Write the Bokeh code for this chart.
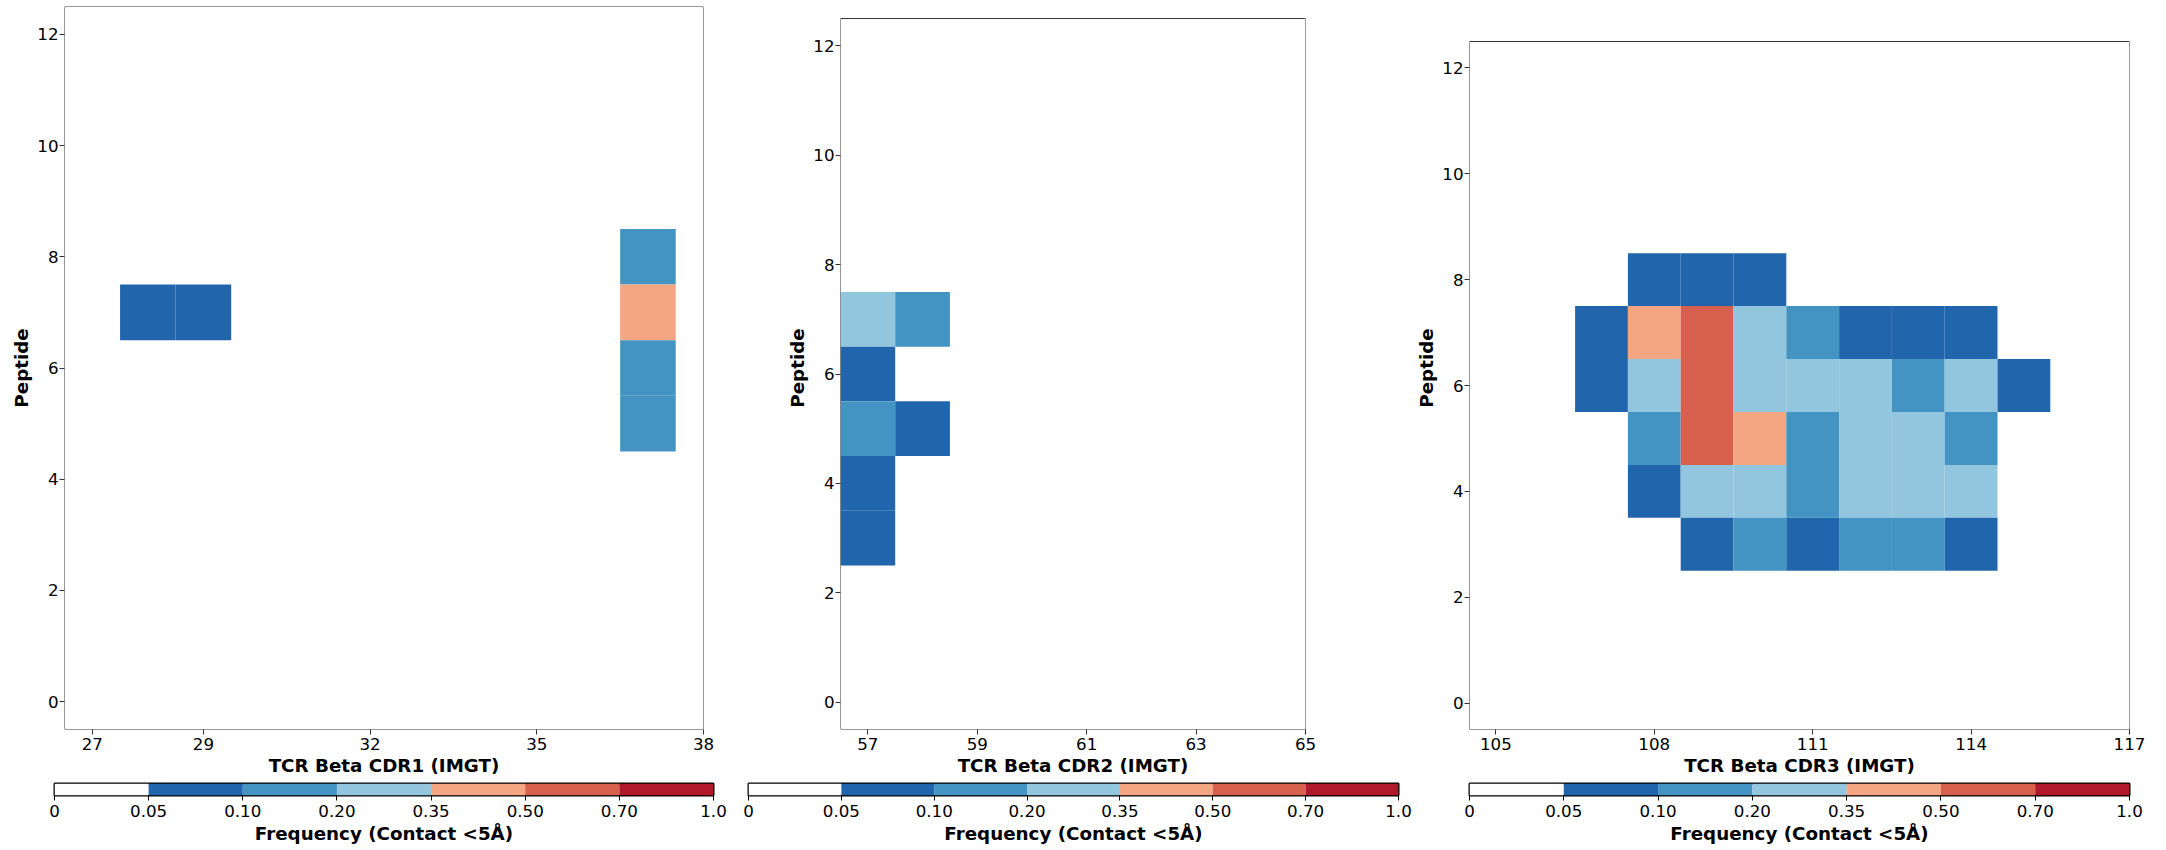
import numpy as np
from bokeh.plotting import figure
from bokeh.models import ColumnDataSource, FixedTicker, LinearColorMapper, Range1d, BoxAnnotation
from bokeh.layouts import row, column
from bokeh.embed import file_html
from bokeh.resources import INLINE

# ---- colour scale (bin boundaries + colours) ----
BOUNDS = [0, 0.05, 0.10, 0.20, 0.35, 0.50, 0.70, 1.0]
BOUND_LABELS = ["0", "0.05", "0.10", "0.20", "0.35", "0.50", "0.70", "1.0"]
PALETTE = ["#ffffff", "#2166ac", "#4393c3", "#92c5de", "#f4a582", "#d6604d", "#b2182b"]

# ---- CDR1 contacts ----
cdr1_pos = [28, 29, 37, 37, 37, 37]
cdr1_pep = [7, 7, 8, 7, 6, 5]
cdr1_freq = [0.08, 0.08, 0.15, 0.42, 0.15, 0.15]
cdr1_ticks = [27, 29, 32, 35, 38]

# ---- CDR2 contacts ----
cdr2_pos = [57, 57, 57, 57, 57, 58, 58]
cdr2_pep = [7, 6, 5, 4, 3, 7, 5]
cdr2_freq = [0.27, 0.08, 0.15, 0.08, 0.08, 0.15, 0.08]
cdr2_ticks = [57, 59, 61, 63, 65]

# ---- CDR3 contacts ----
cdr3_pos = [108, 109, 110,
            107, 108, 109, 110, 111, 112, 113, 114,
            107, 108, 109, 110, 111, 112, 113, 114, 115,
            108, 109, 110, 111, 112, 113, 114,
            108, 109, 110, 111, 112, 113, 114,
            109, 110, 111, 112, 113, 114]
cdr3_pep = [8, 8, 8,
            7, 7, 7, 7, 7, 7, 7, 7,
            6, 6, 6, 6, 6, 6, 6, 6, 6,
            5, 5, 5, 5, 5, 5, 5,
            4, 4, 4, 4, 4, 4, 4,
            3, 3, 3, 3, 3, 3]
cdr3_freq = [0.08, 0.08, 0.08,
             0.08, 0.42, 0.60, 0.27, 0.15, 0.08, 0.08, 0.08,
             0.08, 0.27, 0.60, 0.27, 0.27, 0.27, 0.15, 0.27, 0.08,
             0.15, 0.60, 0.42, 0.15, 0.27, 0.27, 0.15,
             0.08, 0.27, 0.27, 0.15, 0.27, 0.27, 0.27,
             0.08, 0.15, 0.08, 0.15, 0.15, 0.08]
cdr3_ticks = [105, 108, 111, 114, 117]

PEP_RANGE = (-0.5, 12.5)
PEP_TICKS = [0, 2, 4, 6, 8, 10, 12]

FONT = "DejaVu Sans"
TICK_SIZE = "16.7px"
LABEL_SIZE = "18.3px"
SPINE = "#333333"

mapper = LinearColorMapper(palette=PALETTE, low=0, high=len(PALETTE))

HEAT_H = 782
FRAME_TOP = 6
FRAME_BOTTOM = 729
CBAR_H = 850 - HEAT_H
CBAR_TOP = 1
CBAR_BAR = 12


def bin_index(vals):
    return list(np.searchsorted(BOUNDS, np.asarray(vals, float), side="right") - 1 + 0.5)


def style_axis(ax):
    ax.major_label_text_font = FONT
    ax.major_label_text_font_size = TICK_SIZE
    ax.major_label_text_color = "black"
    ax.axis_label_text_font = FONT
    ax.axis_label_text_font_size = LABEL_SIZE
    ax.axis_label_text_font_style = "bold"
    ax.axis_label_text_color = "black"
    ax.minor_tick_line_color = None
    ax.major_tick_in = 0


def heat(pos, pep, freq, xr, ticks, xlabel, w, bl, br, box_top):
    # the drawn box (axes) starts at box_top pixels; the plot frame is shared-height
    lo, hi = PEP_RANGE
    px_per_unit = (FRAME_BOTTOM - box_top) / (hi - lo)
    y_end = hi + (box_top - FRAME_TOP) / px_per_unit
    p = figure(width=w, height=HEAT_H, x_range=Range1d(*xr), y_range=Range1d(lo, y_end),
               output_backend="svg", toolbar_location=None,
               min_border_left=bl, min_border_right=br,
               min_border_top=FRAME_TOP, min_border_bottom=HEAT_H - FRAME_BOTTOM)
    src = ColumnDataSource(dict(x=pos, y=pep, f=freq, b=bin_index(freq)))
    p.rect(x="x", y="y", width=1, height=1, source=src,
           fill_color={"field": "b", "transform": mapper}, line_color=None)
    p.add_layout(BoxAnnotation(left=xr[0], right=xr[1], bottom=lo, top=hi,
                               fill_alpha=0, fill_color=None,
                               line_color=SPINE, line_width=1, line_alpha=1))
    p.xgrid.visible = False
    p.ygrid.visible = False
    p.outline_line_color = None
    p.background_fill_color = "white"
    p.border_fill_color = "white"
    p.xaxis.ticker = FixedTicker(ticks=ticks)
    p.yaxis.ticker = FixedTicker(ticks=PEP_TICKS)
    p.xaxis.axis_label = xlabel
    p.yaxis.axis_label = "Peptide"
    for ax in (p.xaxis[0], p.yaxis[0]):
        style_axis(ax)
        ax.axis_line_color = None
        ax.major_tick_line_color = SPINE
        ax.major_tick_out = 5
    p.xaxis.major_label_standoff = 3
    p.xaxis.axis_label_standoff = 2
    p.yaxis.major_label_standoff = 1
    p.yaxis.axis_label_standoff = 2
    return p


def cbar(w, bl, br):
    n = len(PALETTE)
    p = figure(width=w, height=CBAR_H, x_range=Range1d(0, n), y_range=Range1d(0, 1),
               output_backend="svg", toolbar_location=None, y_axis_location=None,
               min_border_left=bl, min_border_right=br, min_border_top=CBAR_TOP,
               min_border_bottom=CBAR_H - CBAR_TOP - CBAR_BAR)
    src = ColumnDataSource(dict(l=list(range(n)), r=list(range(1, n + 1)),
                                c=[i + 0.5 for i in range(n)]))
    p.quad(left="l", right="r", bottom=0, top=1, source=src,
           fill_color={"field": "c", "transform": mapper}, line_color=None)
    p.xgrid.visible = False
    p.ygrid.visible = False
    p.outline_line_color = "black"
    p.outline_line_width = 2
    p.outline_line_alpha = 1
    p.xaxis.ticker = FixedTicker(ticks=list(range(n + 1)))
    p.xaxis.major_label_overrides = {i: lab for i, lab in enumerate(BOUND_LABELS)}
    p.xaxis.axis_label = "Frequency (Contact <5Å)"
    style_axis(p.xaxis[0])
    p.xaxis.axis_line_color = None
    p.xaxis.major_tick_line_color = "black"
    p.xaxis.major_tick_out = 5
    p.xaxis.major_label_standoff = 4
    p.xaxis.axis_label_standoff = 3
    return p


h1 = heat(cdr1_pos, cdr1_pep, cdr1_freq, (26.5, 38), cdr1_ticks, "TCR Beta CDR1 (IMGT)",
          720, 64, 17, 6)
h2 = heat(cdr2_pos, cdr2_pep, cdr2_freq, (56.5, 65), cdr2_ticks, "TCR Beta CDR2 (IMGT)",
          670, 120, 85, 18)
h3 = heat(cdr3_pos, cdr3_pep, cdr3_freq, (104.5, 117), cdr3_ticks, "TCR Beta CDR3 (IMGT)",
          776, 79, 37, 41)

c1 = cbar(730, 54, 17)
c2 = cbar(703, 18, 35)
c3 = cbar(733, 36, 37)

layout = column(row(h1, h2, h3), row(c1, c2, c3))

open("out.html", "w").write(file_html(layout, INLINE))
